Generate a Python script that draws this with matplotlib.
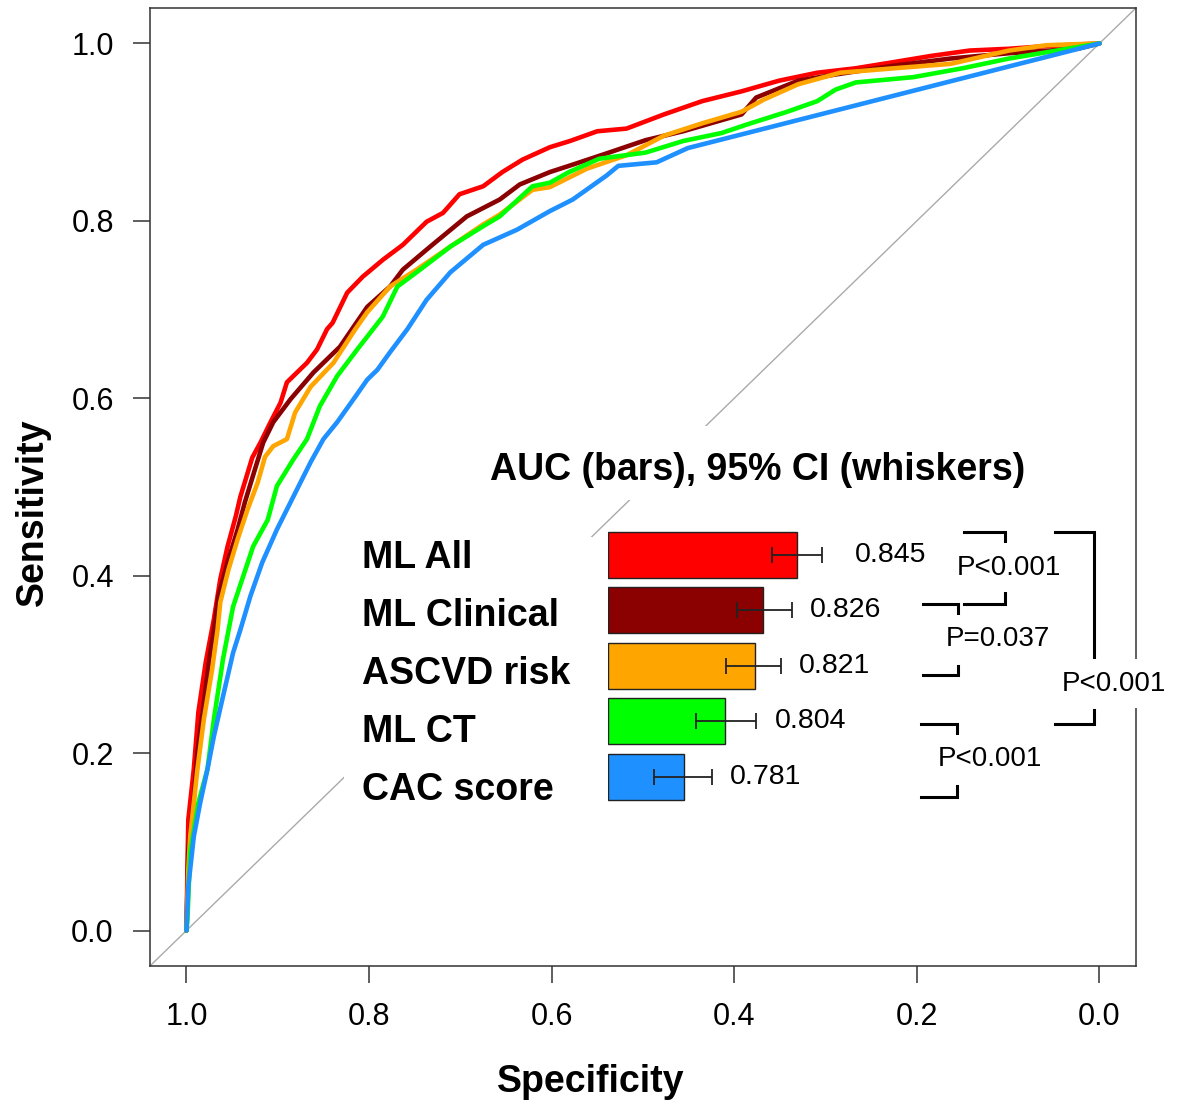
import numpy as np
import matplotlib
matplotlib.use('Agg')
import matplotlib.pyplot as plt
from matplotlib.patches import Rectangle
from matplotlib import transforms

plt.rcParams['font.family'] = ['Liberation Sans', 'DejaVu Sans']

# ROC curves (specificity, sensitivity)
ml_all_spec = [1.000, 0.999, 0.998, 0.992, 0.987, 0.979, 0.970, 0.963, 0.955, 0.946, 0.941, 0.933, 0.928, 0.919,
               0.908, 0.897, 0.890, 0.883, 0.868, 0.857, 0.846, 0.840, 0.824, 0.807, 0.785, 0.763, 0.737, 0.719,
               0.701, 0.675, 0.654, 0.632, 0.602, 0.580, 0.550, 0.518, 0.477, 0.435, 0.392, 0.351, 0.309, 0.267,
               0.225, 0.184, 0.142, 0.099, 0.058, 0.000]
ml_all_sens = [0.000, 0.069, 0.125, 0.182, 0.246, 0.302, 0.351, 0.396, 0.433, 0.467, 0.489, 0.516, 0.533, 0.550,
               0.573, 0.595, 0.618, 0.625, 0.640, 0.655, 0.678, 0.685, 0.719, 0.737, 0.756, 0.773, 0.799, 0.809,
               0.830, 0.839, 0.855, 0.869, 0.883, 0.890, 0.901, 0.904, 0.920, 0.935, 0.946, 0.958, 0.967, 0.972,
               0.979, 0.986, 0.992, 0.994, 0.997, 1.000]

ml_clin_spec = [1.000, 0.998, 0.992, 0.988, 0.981, 0.974, 0.970, 0.965, 0.955, 0.944, 0.936, 0.925, 0.916, 0.905,
                0.886, 0.861, 0.832, 0.802, 0.777, 0.763, 0.733, 0.693, 0.657, 0.635, 0.602, 0.581, 0.540, 0.497,
                0.456, 0.392, 0.376, 0.330, 0.289, 0.225, 0.163, 0.099, 0.024, 0.000]
ml_clin_sens = [0.000, 0.091, 0.148, 0.201, 0.257, 0.313, 0.339, 0.377, 0.415, 0.452, 0.483, 0.520, 0.550, 0.573,
                0.599, 0.629, 0.658, 0.703, 0.726, 0.745, 0.771, 0.805, 0.824, 0.841, 0.855, 0.862, 0.876, 0.891,
                0.901, 0.920, 0.939, 0.958, 0.965, 0.975, 0.983, 0.989, 0.994, 1.000]

ascvd_spec = [1.000, 0.998, 0.996, 0.988, 0.981, 0.972, 0.966, 0.963, 0.954, 0.944, 0.933, 0.922, 0.914, 0.905,
              0.890, 0.881, 0.864, 0.839, 0.815, 0.802, 0.777, 0.748, 0.711, 0.675, 0.657, 0.621, 0.602, 0.561,
              0.518, 0.477, 0.435, 0.392, 0.367, 0.330, 0.284, 0.225, 0.163, 0.099, 0.058, 0.000]
ascvd_sens = [0.000, 0.069, 0.106, 0.182, 0.238, 0.294, 0.339, 0.370, 0.407, 0.441, 0.475, 0.505, 0.534, 0.546,
              0.554, 0.584, 0.613, 0.640, 0.678, 0.697, 0.726, 0.745, 0.771, 0.796, 0.807, 0.835, 0.838, 0.859,
              0.874, 0.896, 0.910, 0.923, 0.937, 0.954, 0.967, 0.972, 0.977, 0.992, 0.998, 1.000]

ml_ct_spec = [1.000, 0.999, 0.996, 0.987, 0.977, 0.970, 0.960, 0.949, 0.938, 0.927, 0.911, 0.901, 0.883, 0.868,
              0.854, 0.835, 0.813, 0.785, 0.769, 0.748, 0.711, 0.675, 0.657, 0.621, 0.602, 0.581, 0.548, 0.497,
              0.456, 0.414, 0.385, 0.342, 0.309, 0.289, 0.267, 0.204, 0.150, 0.099, 0.000]
ml_ct_sens = [0.000, 0.012, 0.088, 0.144, 0.182, 0.238, 0.306, 0.365, 0.399, 0.433, 0.463, 0.501, 0.531, 0.554,
              0.591, 0.625, 0.655, 0.692, 0.726, 0.742, 0.771, 0.794, 0.805, 0.839, 0.843, 0.855, 0.870, 0.877,
              0.890, 0.899, 0.909, 0.923, 0.935, 0.948, 0.956, 0.962, 0.972, 0.983, 1.000]

cac_spec = [1.000, 0.998, 0.992, 0.985, 0.977, 0.970, 0.960, 0.949, 0.941, 0.930, 0.917, 0.901, 0.883, 0.864,
            0.850, 0.835, 0.817, 0.802, 0.791, 0.777, 0.758, 0.737, 0.711, 0.675, 0.638, 0.602, 0.577, 0.540,
            0.527, 0.485, 0.451, 0.000]
cac_sens = [0.000, 0.050, 0.106, 0.144, 0.182, 0.219, 0.264, 0.313, 0.339, 0.377, 0.415, 0.452, 0.489, 0.528,
            0.554, 0.573, 0.599, 0.621, 0.632, 0.652, 0.678, 0.711, 0.742, 0.773, 0.790, 0.811, 0.824, 0.851,
            0.862, 0.866, 0.882, 1.000]

models = ['ML All', 'ML Clinical', 'ASCVD risk', 'ML CT', 'CAC score']
colors = ['#FF0000', '#8B0000', '#FFA500', '#00FF00', '#1E90FF']
auc = [0.845, 0.826, 0.821, 0.804, 0.781]
ci_low = [0.831, 0.811, 0.805, 0.788, 0.764]
ci_high = [0.859, 0.842, 0.836, 0.822, 0.797]

# pairwise comparisons (model i, model j, label)
comparisons = [(0, 1, 'P<0.001'), (1, 2, 'P=0.037'), (3, 4, 'P<0.001'), (0, 3, 'P<0.001')]

curves = [(ml_all_spec, ml_all_sens), (ml_clin_spec, ml_clin_sens), (ascvd_spec, ascvd_sens),
          (ml_ct_spec, ml_ct_sens), (cac_spec, cac_sens)]

fig = plt.figure(figsize=(11.8, 11.05), dpi=100)
ax = fig.add_axes([0.1271, 0.1258, 0.8356, 0.8670])

ax.axline((1, 0), (0, 1), color='#AAAAAA', lw=1.0, zorder=1)
for (sp, se), c in zip(curves, colors):
    ax.plot(sp, se, color=c, lw=3.3, solid_joinstyle='round', solid_capstyle='round', zorder=3)

# white areas behind the inset labels and title
ax.add_patch(Rectangle((0.556, 0.131), 0.272, 0.313, facecolor='white', edgecolor='none', zorder=2))
ax.add_patch(Rectangle((0.061, 0.485), 0.629, 0.084, facecolor='white', edgecolor='none', zorder=2))

ax.set_xlim(1.04, -0.04)
ax.set_ylim(-0.04, 1.04)
ticks = np.arange(0, 1.01, 0.2)
ax.set_xticks(ticks)
ax.set_xticklabels([f'{t:.1f}' for t in ticks])
ax.set_yticks(ticks)
ax.set_yticklabels([f'{t:.1f}' for t in ticks])
ax.tick_params(direction='out', length=12, width=1.1, color='#333333', labelsize=22, pad=14)
for s in ax.spines.values():
    s.set_color('#333333')
    s.set_linewidth(1.1)

ax.set_xlabel('Specificity', fontsize=27, fontweight='bold')
ax.xaxis.set_label_coords(0.447, -0.102)
ax.set_ylabel('Sensitivity', fontsize=27, fontweight='bold')
ax.yaxis.set_label_coords(-0.1005, 0.474)

# inset bar chart of AUC with 95% CI
base = 0.738
ins = fig.add_axes([0.5153, 0.2719, 0.2424, 0.2511])
ins.patch.set_alpha(0)
y = np.arange(len(models))
auc_a = np.array(auc)
ins.barh(y, auc_a - base, left=base, height=0.83, color=colors, edgecolor='#222222', linewidth=1.0)
ins.errorbar(auc_a, y, xerr=[auc_a - np.array(ci_low), np.array(ci_high) - auc_a], fmt='none',
             ecolor='#222222', elinewidth=1.3, capsize=6, capthick=1.3)
ins.set_xlim(base, base + 0.162)
ins.set_ylim(4.5, -0.5)
ins.axis('off')

label_pad = [24, 13, 13, 13, 13]
for i, (hi, a) in enumerate(zip(ci_high, auc)):
    ins.annotate(f'{a:.3f}', xy=(hi, i), xytext=(label_pad[i], 0), textcoords='offset points',
                 ha='left', va='center', fontsize=20.5)

bt = transforms.blended_transform_factory(ins.transAxes, ins.transData)
for i, m in enumerate(models):
    ins.text(-0.860, i * 1.045 + 0.05, m, transform=bt, ha='left', va='center', fontsize=27, fontweight='bold')
ins.text(0.524, -1.53, 'AUC (bars), 95% CI (whiskers)', transform=bt, ha='center', va='center',
         fontsize=27, fontweight='bold')

# brackets: x0, x1 (axes fraction), y top, y bottom, tick lengths, text position
bracket_geom = [(1.245, 1.388, -0.41, 0.88, 0.23, 0.22, 1.402, 0.23),
                (1.101, 1.224, 0.88, 2.16, 0.16, 0.16, 1.364, 1.51),
                (1.094, 1.220, 3.05, 4.36, 0.16, 0.20, 1.336, 3.68),
                (1.563, 1.699, -0.41, 3.05, 2.25, 0.25, 1.769, 2.32)]
for (i, j, lab), (x0, x1, y0, y1, tl, bl, tx, ty) in zip(comparisons, bracket_geom):
    kw = dict(transform=bt, clip_on=False, color='black', lw=2.2, solid_joinstyle='miter')
    ins.plot([x0, x1, x1], [y0, y0, y0 + tl], **kw)
    ins.plot([x0, x1, x1], [y1, y1, y1 - bl], **kw)
    ins.text(tx, ty, lab, transform=bt, ha='center', va='center', fontsize=20, zorder=5,
             bbox=dict(facecolor='white', edgecolor='none', boxstyle='square,pad=0.4'))

fig.savefig('out.png', dpi=100)
